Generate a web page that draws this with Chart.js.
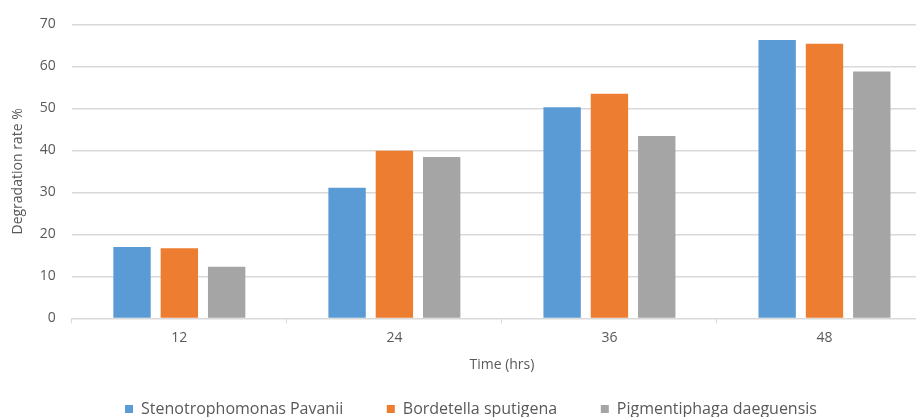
<!DOCTYPE html>
<html>
<head>
<meta charset="utf-8">
<script src="https://cdn.jsdelivr.net/npm/chart.js@4"></script>
<style>
  html, body { margin: 0; padding: 0; background: #fff; }
  #wrap { width: 916px; height: 417px; overflow: hidden; position: relative; }
  #box { width: 940px; height: 417px; }
</style>
</head>
<body>
<div id="wrap"><div id="box"><canvas id="chart"></canvas></div></div>
<script>
// data
var hours = ["12", "24", "36", "48"];
var stenotrophomonas = [17.0, 31.1, 50.3, 66.3];
var bordetella = [16.7, 39.9, 53.5, 65.4];
var pigmentiphaga = [12.3, 38.4, 43.4, 58.8];
var seriesNames = ["Stenotrophomonas Pavanii", "Bordetella sputigena", "Pigmentiphaga daeguensis"];
var yTicks = [0, 10, 20, 30, 40, 50, 60, 70];

var textColor = "#595959";
var gridColor = "#D9D9D9";
var font = "'Open Sans', sans-serif";

var ctx = document.getElementById("chart");

var chart = new Chart(ctx, {
  type: 'bar',
  data: {
    labels: hours,
    datasets: [{
      label: seriesNames[0],
      data: stenotrophomonas,
      backgroundColor: "#5B9BD5"
    }, {
      label: seriesNames[1],
      data: bordetella,
      backgroundColor: "#ED7D31"
    }, {
      label: seriesNames[2],
      data: pigmentiphaga,
      backgroundColor: "#A5A5A5"
    }]
  },
  options: {
    responsive: true,
    maintainAspectRatio: false,
    animation: false,
    datasets: {
      bar: { categoryPercentage: 0.66, barPercentage: 0.79 }
    },
    layout: { padding: { left: 10, right: 8, top: 13, bottom: -10 } },
    plugins: {
      tooltip: { enabled: false },
      legend: {
        position: 'bottom',
        labels: {
          color: textColor,
          font: { family: font, size: 16 },
          boxWidth: 8,
          boxHeight: 8,
          padding: 2,
          generateLabels: function(chart) {
            var items = Chart.defaults.plugins.legend.labels.generateLabels(chart);
            items.forEach(function(it, i) {
              it.lineWidth = 0;
              if (i < items.length - 1) it.text = it.text + "          ";
            });
            return items;
          }
        }
      }
    },
    scales: {
      x: {
        grid: {
          offset: true,
          drawOnChartArea: false,
          color: gridColor,
          tickLength: 5
        },
        border: { display: true, color: gridColor },
        ticks: { color: textColor, font: { family: font, size: 14 }, padding: 6 },
        title: {
          display: true,
          text: "Time (hrs)",
          color: textColor,
          font: { family: font, size: 14 },
          padding: { top: 4, bottom: 26 }
        }
      },
      y: {
        min: 0,
        max: 70,
        afterBuildTicks: function(axis) {
          axis.ticks = yTicks.map(function(v) { return { value: v }; });
        },
        grid: { color: gridColor, drawTicks: false, lineWidth: 1.5 },
        border: { display: false },
        ticks: { color: textColor, font: { family: font, size: 14 }, padding: 16 },
        title: {
          display: true,
          text: "Degradation rate %",
          color: textColor,
          font: { family: font, size: 14 },
          padding: { top: 0, bottom: -3 }
        }
      }
    }
  }
});
</script>
</body>
</html>
